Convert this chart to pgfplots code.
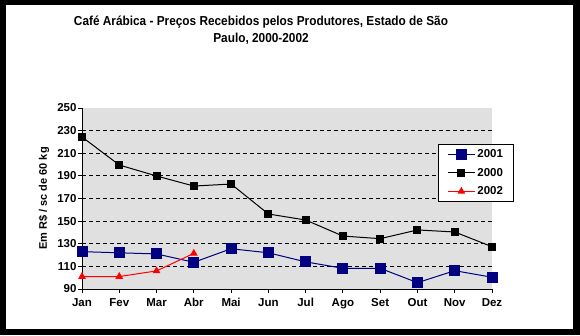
\documentclass[border=0pt]{standalone}
\usepackage{pgfplots}
\pgfplotsset{compat=1.18}
\usepackage{fontspec}
\setmainfont{Liberation Sans}
\newfontfamily\titlefont[FakeStretch=0.91]{Liberation Sans}
\definecolor{plotbg}{RGB}{224,224,224}
\definecolor{navyc}{RGB}{0,0,128}
\begin{document}
\begin{tikzpicture}[x=1pt,y=1pt]
\useasboundingbox (0,0) rectangle (580,335);
\fill[black] (0,0) rectangle (580,335);
\fill[white] (6,6) rectangle (573,330);
\begin{axis}[
  at={(82pt,46pt)}, anchor=south west,
  scale only axis, width=410pt, height=181pt,
  xmin=0, xmax=11, ymin=90, ymax=250,
  axis x line*=bottom, axis y line*=left,
  axis line style={black, line width=1pt},
  axis background/.style={fill=plotbg},
  xtick={0,...,11},
  xticklabels={Jan,Fev,Mar,Abr,Mai,Jun,Jul,Ago,Set,Out,Nov,Dez},
  ytick={90,110,...,250},
  tick align=outside, major tick length=4pt,
  tick style={black, line width=1pt},
  every tick label/.append style={font=\bfseries\fontsize{11.5}{13}\selectfont},
  xticklabel style={yshift=-2pt},
  yticklabel style={xshift=2pt},
  /pgf/number format/assume math mode=true,
  extra y ticks={110,130,...,230},
  extra y tick labels={},
  extra y tick style={grid=major, major tick length=0pt, grid style={black, line width=1pt, dash pattern=on 4pt off 3pt}},
  ylabel={Em R\$ / sc de 60 kg},
  ylabel style={at={(axis description cs:-0.093,0.5)}, anchor=center, font=\bfseries\fontsize{11}{13}\selectfont},
  legend style={at={(axis description cs:0.868,0.801)}, anchor=north west, draw=black, line width=1pt, fill=white,
    font=\bfseries\fontsize{11.5}{13}\selectfont, row sep=5pt, inner xsep=9pt, inner ysep=3pt},
  legend image code/.code={\draw[mark repeat=2,mark phase=2] plot coordinates {(0pt,0pt) (13.5pt,0pt) (27pt,0pt)};},
  legend cell align=left,
  clip=false,
]
\addplot[navyc, line width=1pt, mark=square*, mark size=5pt, mark options={solid, fill=navyc}] coordinates {
(0,123) (1,122) (2,121) (3,113.6) (4,125.6) (5,122) (6,114) (7,108.3) (8,108.3) (9,95.6) (10,106.2) (11,100.4)};
\addlegendentry{2001}
\addplot[black, line width=1pt, mark=square*, mark size=3.5pt, mark options={solid, fill=black}] coordinates {
(0,224.4) (1,199.6) (2,189.9) (3,181) (4,182.8) (5,156.3) (6,151) (7,136.8) (8,134.5) (9,142.2) (10,140.4) (11,127.4)};
\addlegendentry{2000}
\addplot[red, line width=1pt, mark=triangle*, mark size=3.5pt, mark options={solid, fill=red}] coordinates {
(0,101) (1,101) (2,106) (3,121.5)};
\addlegendentry{2002}
\end{axis}
\node[font=\titlefont\bfseries\fontsize{13}{17}\selectfont, align=center] at (261,304.5) {Café Arábica - Preços Recebidos pelos Produtores, Estado de São\\Paulo, 2000-2002};
\end{tikzpicture}
\end{document}
